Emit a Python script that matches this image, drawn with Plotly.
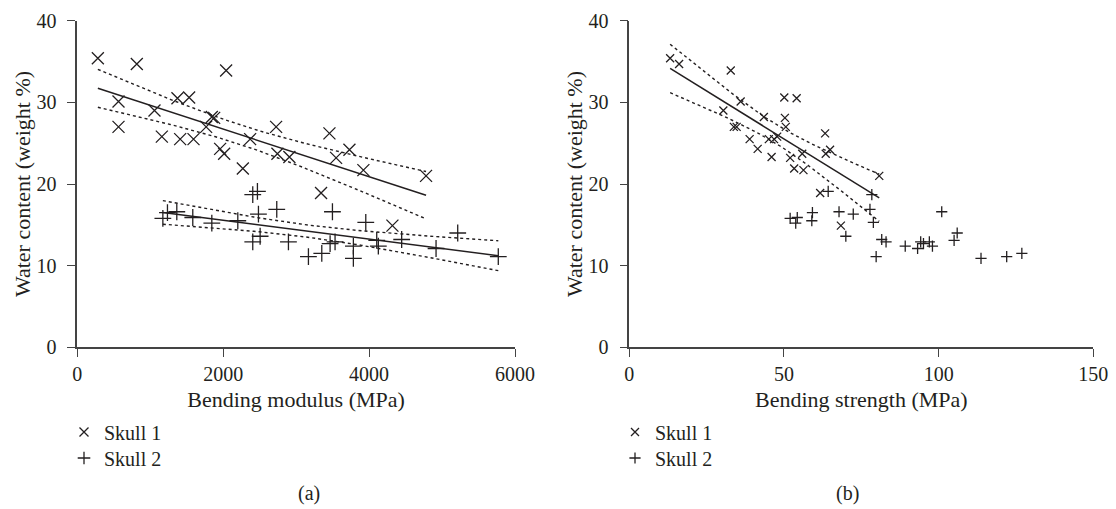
import numpy as np
import plotly.graph_objects as go

# ---------------- data ----------------
# Skull 1: water content (weight %), bending modulus (MPa), bending strength (MPa)
skull1_water = [35.4, 34.7, 33.9, 30.6, 30.5, 30.1, 29.0, 28.2, 28.1, 27.0, 27.0, 27.0, 26.2, 25.8,
                25.5, 25.5, 25.5, 24.3, 24.2, 23.7, 23.7, 23.3, 23.2, 21.9, 21.7, 21.0, 18.9, 14.9]
skull1_modulus = [283, 817, 2041, 1534, 1374, 566, 1059, 1845, 1877, 566, 1767, 2726, 3457, 1160,
                  1411, 1594, 2370, 1959, 3731, 2014, 2744, 2908, 3548, 2270, 3922, 4781, 3342, 4320]
skull1_strength = [13.2, 16.1, 32.8, 50.1, 54.1, 36.0, 30.4, 43.5, 50.3, 50.6, 33.8, 34.7, 63.3, 47.8,
                   46.8, 38.9, 45.1, 41.5, 64.9, 55.9, 63.5, 46.0, 52.0, 53.3, 56.3, 80.8, 61.7, 68.4]

# Skull 2
skull2_water = [19.1, 18.7, 16.9, 16.6, 16.6, 16.5, 16.3, 15.9, 15.8, 15.5, 15.3, 15.2, 14.0, 13.6,
                13.2, 13.1, 12.9, 12.9, 12.9, 12.7, 12.4, 12.4, 12.1, 11.5, 11.1, 11.1, 10.9]
skull2_modulus = [2470, 2406, 2735, 1365, 3498, 1237, 2484, 1584, 1174, 2201, 3955, 1845, 5215, 2507,
                  4447, 4105, 2406, 2895, 3534, 3466, 3785, 4127, 4918, 3352, 3169, 5771, 3785]
skull2_strength = [64.3, 78.4, 77.8, 67.8, 101.0, 59.2, 72.4, 54.3, 52.0, 59.0, 78.9, 53.8, 106.0, 70.0,
                   81.6, 105.0, 83.0, 97.0, 94.2, 95.1, 89.2, 98.0, 93.2, 126.9, 79.8, 122.0, 113.7]

series_names = ["Skull 1", "Skull 2"]
x_titles = ["Bending modulus (MPa)", "Bending strength (MPa)"]
y_title = "Water content (weight %)"
panel_labels = ["(a)", "(b)"]

# ---------------- styling ----------------
INK = "#231f20"
AX = "#444444"
FONT = "Liberation Serif, Times New Roman, serif"
W, H = 1116, 509
TICK_SIZE = 20
TITLE_SIZE = 22
LEG_SIZE = 20
LABEL_SIZE = 20


def fit_with_band(x, y, t_crit):
    x = np.asarray(x, float)
    y = np.asarray(y, float)
    n = len(x)
    xm, ym = x.mean(), y.mean()
    sxx = ((x - xm) ** 2).sum()
    b = ((x - xm) * (y - ym)).sum() / sxx
    a = ym - b * xm
    s = np.sqrt(((y - (a + b * x)) ** 2).sum() / (n - 2))
    xs = np.linspace(x.min(), x.max(), 60)
    yh = a + b * xs
    se = s * np.sqrt(1.0 / n + (xs - xm) ** 2 / sxx)
    return xs, yh, yh - t_crit * se, yh + t_crit * se


def add_fit(fig, x, y, t, xa, ya):
    fx, fy, lo, hi = fit_with_band(x, y, t)
    fig.add_trace(go.Scatter(x=fx, y=fy, mode="lines", showlegend=False, hoverinfo="skip",
                             line=dict(color=INK, width=1.5), xaxis=xa, yaxis=ya))
    for band in (lo, hi):
        fig.add_trace(go.Scatter(x=fx, y=band, mode="lines", showlegend=False, hoverinfo="skip",
                                 line=dict(color=INK, width=1.4, dash="dot"), xaxis=xa, yaxis=ya))


symbols = ["x-thin", "cross-thin"]
fig = go.Figure()

# ----- panel (a) -----
for xs_, ws_, name, sym, t in [(skull1_modulus, skull1_water, series_names[0], symbols[0], 2.056),
                               (skull2_modulus, skull2_water, series_names[1], symbols[1], 2.060)]:
    fig.add_trace(go.Scatter(x=xs_, y=ws_, mode="markers", name=name, showlegend=False,
                             marker=dict(symbol=sym, size=12, color=INK,
                                         line=dict(width=1.3, color=INK)),
                             xaxis="x", yaxis="y"))
    add_fit(fig, xs_, ws_, t, "x", "y")

# legend entries for panel (a)
for name, sym, lg in zip(series_names, symbols, ["legend", "legend2"]):
    fig.add_trace(go.Scatter(x=[None], y=[None], mode="markers", name=name, legend=lg,
                             marker=dict(symbol=sym, size=9, color=INK, line=dict(width=1.3, color=INK)),
                             xaxis="x", yaxis="y"))

# ----- panel (b) -----
for xs_, ws_, name, sym, lg in [(skull1_strength, skull1_water, series_names[0], symbols[0], "legend3"),
                                (skull2_strength, skull2_water, series_names[1], symbols[1], "legend4")]:
    fig.add_trace(go.Scatter(x=xs_, y=ws_, mode="markers", name=name, legend=lg,
                             marker=dict(symbol=sym, size=8, color=INK, line=dict(width=1.3, color=INK)),
                             xaxis="x2", yaxis="y2"))
add_fit(fig, skull1_strength, skull1_water, 2.056, "x2", "y2")

# ---------------- layout ----------------
xa_dom = [77.2 / W, 515.0 / W]
xb_dom = [629.3 / W, 1093.3 / W]
y_dom = [(H - 347.3) / H, (H - 20.7) / H]

axis_common = dict(showline=True, linecolor=AX, linewidth=1.5, ticks="outside", ticklen=8,
                   tickwidth=1.3, tickcolor=AX, showgrid=False, zeroline=False, automargin=False,
                   tickfont=dict(family=FONT, size=TICK_SIZE, color=INK))
x_extra = dict(ticklabelstandoff=0)
y_extra = dict(ticklabelstandoff=7)
title_font = dict(family=FONT, size=TITLE_SIZE, color=INK)


def leg(xpx, ypx):
    return dict(x=xpx / W, y=1 - ypx / H, xanchor="left", yanchor="middle", bgcolor="rgba(0,0,0,0)",
                font=dict(family=FONT, size=LEG_SIZE, color=INK), itemwidth=30)


fig.update_layout(
    width=W, height=H,
    margin=dict(l=0, r=0, t=0, b=0, autoexpand=False),
    paper_bgcolor="white", plot_bgcolor="white",
    font=dict(family=FONT, size=TICK_SIZE, color=INK),
    xaxis=dict(domain=xa_dom, range=[0, 6000], tickvals=[0, 2000, 4000, 6000], anchor="y",
               title=dict(text=x_titles[0], standoff=8, font=title_font), **axis_common, **x_extra),
    yaxis=dict(domain=y_dom, range=[0, 40], tickvals=[0, 10, 20, 30, 40], anchor="x",
               title=dict(text=y_title, standoff=0, font=title_font), **axis_common, **y_extra),
    xaxis2=dict(domain=xb_dom, range=[0, 150], tickvals=[0, 50, 100, 150], anchor="y2",
                title=dict(text=x_titles[1], standoff=8, font=title_font), **axis_common, **x_extra),
    yaxis2=dict(domain=y_dom, range=[0, 40], tickvals=[0, 10, 20, 30, 40], anchor="x2",
                title=dict(text=y_title, standoff=0, font=title_font), **axis_common, **y_extra),
    legend=leg(64, 432),
    legend2=leg(64, 458),
    legend3=leg(615, 432),
    legend4=leg(615, 458),
    showlegend=True,
    annotations=[
        dict(text=panel_labels[0], x=(xa_dom[0] + xa_dom[1]) / 2, y=1 - 493 / H, xref="paper",
             yref="paper", yanchor="middle", showarrow=False, font=dict(family=FONT, size=LABEL_SIZE, color=INK)),
        dict(text=panel_labels[1], x=(xb_dom[0] + xb_dom[1]) / 2, y=1 - 493 / H, xref="paper",
             yref="paper", yanchor="middle", showarrow=False, font=dict(family=FONT, size=LABEL_SIZE, color=INK)),
    ],
)

fig.write_html("out.html", config={"displayModeBar": False},
               post_script="document.body.style.margin='0px';document.body.style.overflow='hidden';")
